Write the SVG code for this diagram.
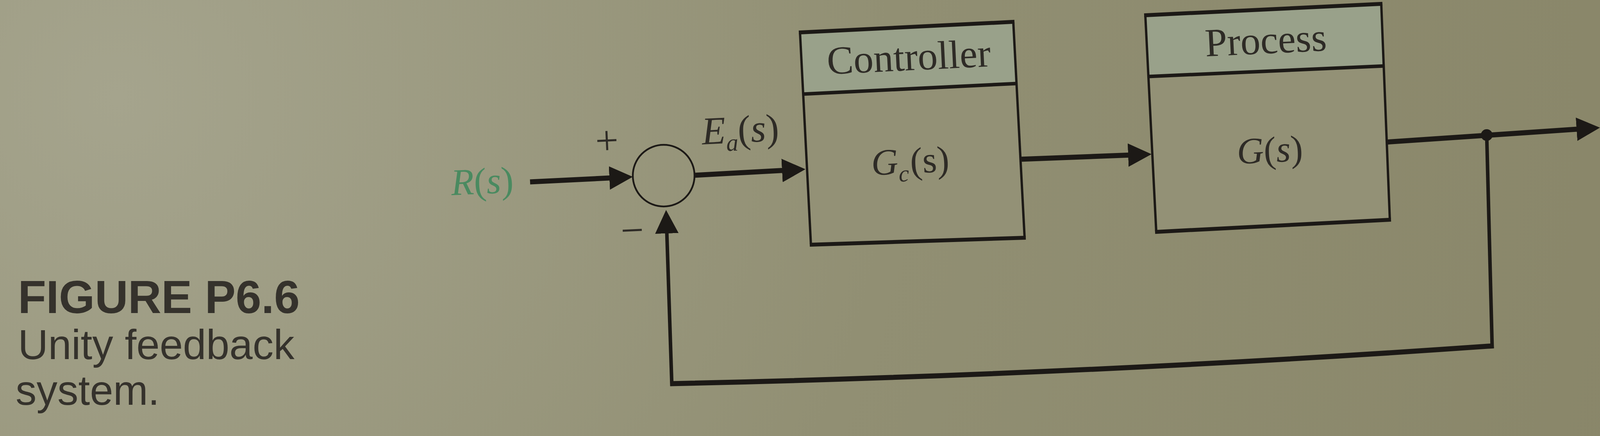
<svg xmlns="http://www.w3.org/2000/svg" width="4160" height="1117" viewBox="0 0 4160 1117">
  <defs>
    <radialGradient id="paper" gradientUnits="userSpaceOnUse" cx="300" cy="250" r="4000">
      <stop offset="0" stop-color="#a5a48d"/>
      <stop offset="0.5" stop-color="#918f73"/>
      <stop offset="1" stop-color="#898669"/>
    </radialGradient>
    <marker id="ah" markerUnits="userSpaceOnUse" markerWidth="62" markerHeight="62" viewBox="0 0 62 62" refX="4" refY="31" orient="auto">
      <path d="M0,1 L60,31 L0,61 Z" fill="#1c1916"/>
    </marker>
    <style>
      .body { fill: #939176; stroke: none; }
      .hdr { fill: #99a18a; stroke: none; }
      .hline { fill: none; stroke: #1c1916; stroke-width: 10; stroke-linecap: butt; }
      .vline { fill: none; stroke: #1c1916; stroke-width: 6; stroke-linecap: butt; }
      .sep { fill: none; stroke: #1c1916; stroke-width: 9; }
      .sig { fill: none; stroke: #1c1916; stroke-width: 13; stroke-linecap: butt; }
      .fb { fill: none; stroke: #1c1916; stroke-width: 9; stroke-linecap: butt; }
      .serif { font-family: "Liberation Serif", "Times New Roman", serif; fill: #2e2b26; }
      .green { fill: #4a8a60; }
      .cap { font-family: "Liberation Sans", Arial, sans-serif; fill: #35322c; }
      .it { font-style: italic; }
    </style>
  </defs>

  <rect x="0" y="0" width="4160" height="1117" fill="url(#paper)"/>

  <g id="summing-junction">
    <circle cx="1699" cy="450" r="79" fill="none" stroke="#1c1916" stroke-width="4.5"/>
    <text class="serif" x="1555" y="395" font-size="105" text-anchor="middle" transform="rotate(-2.6 1555 395)">+</text>
    <text class="serif" x="1620" y="625" font-size="105" text-anchor="middle" transform="rotate(-2.6 1620 625)">−</text>
  </g>

  <g id="input-label">
    <text class="serif green" x="1156" y="500" font-size="96" transform="rotate(-2.6 1156 500)"><tspan class="it">R</tspan>(<tspan class="it">s</tspan>)</text>
  </g>

  <g id="error-label">
    <text class="serif" x="1798" y="370" font-size="100" transform="rotate(-2.8 1798 370)"><tspan class="it">E</tspan><tspan class="it" font-size="62" dy="20">a</tspan><tspan dy="-20">(</tspan><tspan class="it">s</tspan>)</text>
  </g>

  <g id="controller">
    <path class="body" d="M2048,83 L2594,56 L2623,609 L2076,627 Z"/>
    <path class="hdr" d="M2050,85 L2592,58 L2600,214 L2058,241 Z"/>
    <path class="vline" d="M2048,83 L2076,627"/>
    <path class="vline" d="M2594,56 L2623,609"/>
    <path class="hline" d="M2045,83.15 L2597,55.85"/>
    <path class="hline" d="M2073,627.1 L2626,608.9"/>
    <path class="sep" d="M2056,241 L2602,214"/>
    <text class="serif" x="2328" y="180" font-size="102" text-anchor="middle" transform="rotate(-2.8 2328 180)">Controller</text>
    <text class="serif" x="2232" y="449" font-size="95" transform="rotate(-2.8 2232 449)"><tspan class="it">G</tspan><tspan class="it" font-size="60" dy="20">c</tspan><tspan dy="-20" dx="4">(s)</tspan></text>
  </g>

  <g id="process">
    <path class="body" d="M2932,39 L3536,10 L3558,563 L2960,594 Z"/>
    <path class="hdr" d="M2934,41 L3534,12 L3541,169 L2942,196 Z"/>
    <path class="vline" d="M2932,39 L2960,594"/>
    <path class="vline" d="M3536,10 L3558,563"/>
    <path class="hline" d="M2929,39.15 L3539,9.85"/>
    <path class="hline" d="M2957,594.15 L3561,562.85"/>
    <path class="sep" d="M2940,196 L3543,169"/>
    <text class="serif" x="3242" y="137" font-size="102" text-anchor="middle" transform="rotate(-2.8 3242 137)">Process</text>
    <text class="serif" x="3168" y="420" font-size="95" transform="rotate(-2.8 3168 420)"><tspan class="it">G</tspan>(<tspan class="it">s</tspan>)</text>
  </g>

  <g id="output-label">
    <text class="serif green" x="4138" y="359" font-size="96" transform="rotate(-3 4138 359)"><tspan class="it">Y</tspan>(<tspan class="it">s</tspan>)</text>
  </g>

  <g id="connectors">
    <path class="sig" d="M1357,466 L1564,455.8" marker-end="url(#ah)"/>
    <path class="sig" d="M1777,449 L2006,436.6" marker-end="url(#ah)"/>
    <path class="sig" d="M2612,408 L2892,397.2" marker-end="url(#ah)"/>
    <path class="sig" d="M3550,364 L4040,330.8" marker-end="url(#ah)"/>
    <circle cx="3806" cy="346" r="15" fill="#1c1916"/>
    <path class="fb" d="M3806,346 L3820,892"/>
    <path class="sig" d="M3824,886 Q2770,960 1716,983"/>
    <path class="fb" d="M1720,989 L1707,594" marker-end="url(#ah)"/>
  </g>

  <g id="caption">
    <text class="cap" x="46" y="802" font-size="118" font-weight="bold" fill="#2a2722">FIGURE P6.6</text>
    <text class="cap" x="46" y="920" font-size="107">Unity feedback</text>
    <text class="cap" x="40" y="1037" font-size="107">system.</text>
  </g>
</svg>
